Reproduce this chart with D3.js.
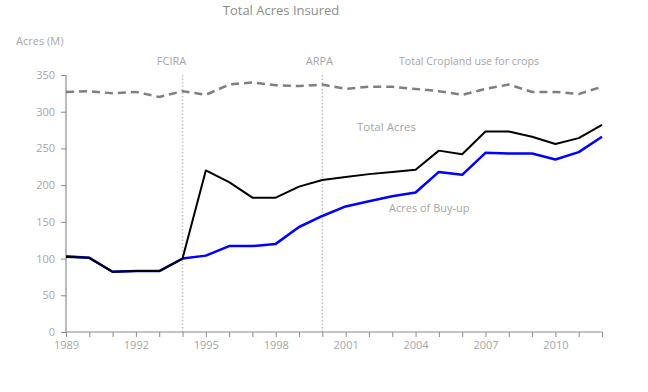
<!DOCTYPE html>
<html><head><meta charset="utf-8">
<script src="https://cdn.jsdelivr.net/npm/d3@7"></script>
<style>
html,body{margin:0;padding:0;background:#fff;}
svg{display:block;font-family:"Open Sans",sans-serif;}
</style></head>
<body>
<svg id="chart" width="648" height="392"></svg>
<script>
const years = d3.range(1989, 2013);
const totalAcres = [102,101,82,83,83,100,220,204,183,183,198,207,211,215,218,221,247,242,273,273,266,256,264,282];
const buyUpAcres = [103,101,82,83,83,100,104,117,117,120,143,158,171,178,185,190,218,214,244,243,243,235,245,266];
const cropland = [327,328,325,327,320,328,323,337,340,336,335,337,331,334,334,331,328,323,331,337,327,327,324,334];
const yTicks = [0,50,100,150,200,250,300,350];
const xLabelYears = [1989,1992,1995,1998,2001,2004,2007,2010];
const eventYears = [1994, 2000];
const eventLabels = ["FCIRA", "ARPA"];

const svg = d3.select("#chart");
const x = d3.scaleLinear().domain([1989,2012]).range([66,602]);
const y = d3.scaleLinear().domain([0,350]).range([332,75]);
const axisColor = "#8c8c8c", textColor = "#a6a6a6";
const labelShift = [-11, -3];

// event lines
eventYears.forEach((yr,i)=>{
  svg.append("line").attr("x1",x(yr)).attr("x2",x(yr))
    .attr("y1",y(350)).attr("y2",y(0))
    .attr("stroke","#bfbfbf").attr("stroke-width",1.5).attr("stroke-dasharray","1.5,2");
  svg.append("text").attr("x",x(yr)+labelShift[i]).attr("y",61).attr("dy","0.35em")
    .attr("text-anchor","middle").attr("fill",textColor).attr("font-size",11).text(eventLabels[i]);
});

// axes
const yAxis = svg.append("g").attr("transform","translate(66,0)")
  .call(d3.axisLeft(y).tickValues(yTicks).tickSize(5).tickPadding(6));
const xAxis = svg.append("g").attr("transform","translate(0,332)")
  .call(d3.axisBottom(x).tickValues(years).tickSize(5).tickPadding(4)
    .tickFormat(d=>xLabelYears.includes(d)?String(d):""));
[yAxis,xAxis].forEach(g=>{
  g.select(".domain").attr("stroke",axisColor).attr("stroke-width",1.2);
  g.selectAll(".tick line").attr("stroke",axisColor);
  g.selectAll(".tick text").attr("fill",textColor).attr("font-size",11)
    .attr("font-family","'Open Sans',sans-serif");
});
xAxis.select(".domain").attr("d","M66,0H602");
yAxis.select(".domain").attr("d","M0,"+y(350)+"V"+y(0));

const line = arr => d3.line().x((d,i)=>x(years[i])).y(d=>y(d))(arr);

svg.append("path").attr("d",line(cropland)).attr("fill","none")
  .attr("stroke","#7f7f7f").attr("stroke-width",2.5).attr("stroke-dasharray","8,5");
svg.append("path").attr("d",line(buyUpAcres)).attr("fill","none")
  .attr("stroke","#0000ff").attr("stroke-width",2.5).attr("stroke-linejoin","round");
svg.append("path").attr("d",line(totalAcres)).attr("fill","none")
  .attr("stroke","#000000").attr("stroke-width",2).attr("stroke-linejoin","round");

// texts
const txt = (s,xx,yy,size,anchor,fill)=>svg.append("text").attr("x",xx).attr("y",yy)
  .attr("dy","0.35em").attr("text-anchor",anchor||"start").attr("font-size",size)
  .attr("fill",fill||textColor).text(s);
txt("Total Acres Insured",281,10,13,"middle","#8c8c8c");
txt("Acres (M)",16,41,11);
txt("Total Cropland use for crops",399,61,10.6);
txt("Total Acres",357,127,11.5);
txt("Acres of Buy-up",389,208,11);
</script>
</body></html>
